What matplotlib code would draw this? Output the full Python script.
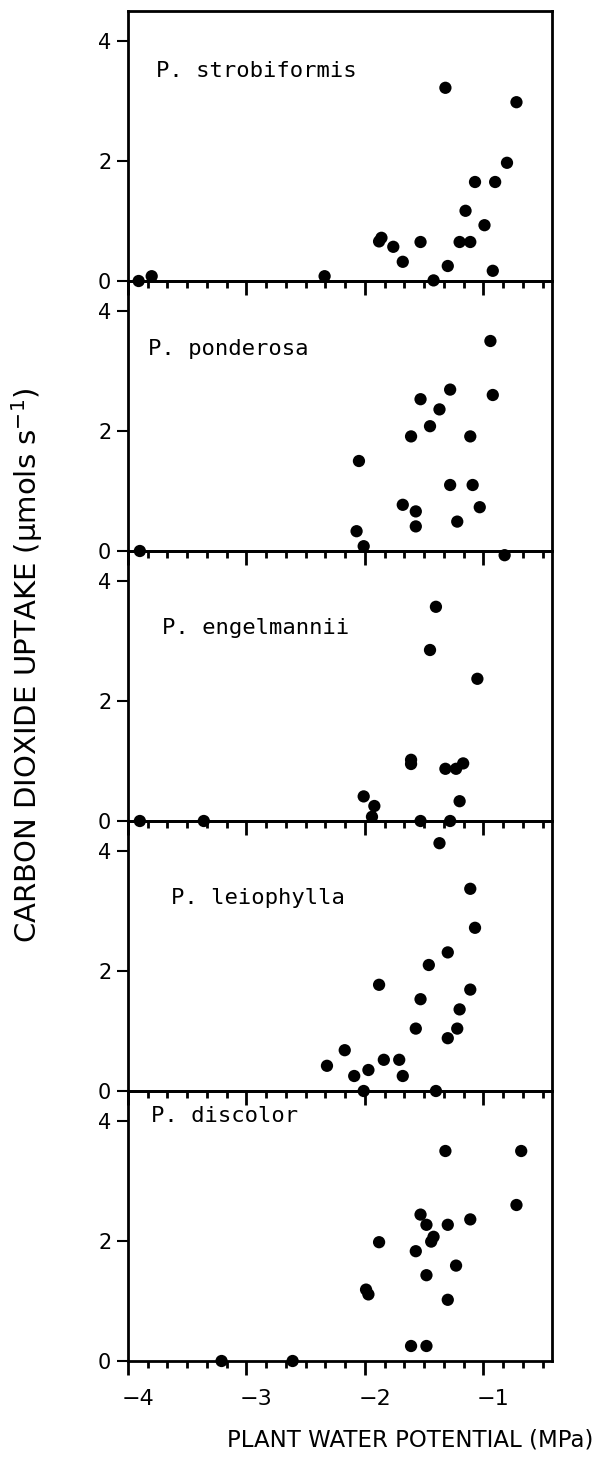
import numpy as np
import matplotlib
matplotlib.use("Agg")
import matplotlib.pyplot as plt
from matplotlib.ticker import MultipleLocator, FixedLocator
from matplotlib.transforms import ScaledTranslation

# species, panel order top to bottom
species = ["P. strobiformis", "P. ponderosa", "P. engelmannii", "P. leiophylla", "P. discolor"]

strob_x = [-3.91, -3.80, -2.34, -1.88, -1.86, -1.76, -1.68, -1.53, -1.42, -1.32, -1.30,
           -1.20, -1.11, -1.15, -1.07, -0.99, -0.92, -0.90, -0.80, -0.72]
strob_y = [0.0, 0.08, 0.08, 0.66, 0.72, 0.57, 0.32, 0.65, 0.01, 3.22, 0.25,
           0.65, 0.65, 1.17, 1.65, 0.93, 0.17, 1.65, 1.97, 2.98]

pond_x = [-3.90, -2.05, -2.07, -2.01, -1.68, -1.57, -1.57, -1.61, -1.53, -1.45, -1.37,
          -1.28, -1.28, -1.22, -1.11, -1.09, -1.03, -0.94, -0.92]
pond_y = [0.0, 1.50, 0.33, 0.08, 0.77, 0.66, 0.41, 1.91, 2.53, 2.08, 2.36,
          2.69, 1.10, 0.49, 1.91, 1.10, 0.73, 3.50, 2.60]

engel_x = [-3.90, -3.36, -2.01, -1.92, -1.94, -1.61, -1.61, -1.53, -1.45, -1.40, -1.32,
           -1.28, -1.23, -1.17, -1.20, -1.05, -0.82]
engel_y = [0.0, 0.0, 0.41, 0.25, 0.07, 1.02, 0.95, 0.0, 2.85, 3.57, 0.87,
           0.0, 0.87, 0.96, 0.33, 2.37, 4.43]

leio_x = [-2.01, -2.32, -2.17, -2.09, -1.97, -1.88, -1.84, -1.71, -1.68, -1.57, -1.53,
          -1.46, -1.40, -1.37, -1.30, -1.30, -1.22, -1.20, -1.11, -1.11, -1.07]
leio_y = [0.0, 0.42, 0.68, 0.25, 0.35, 1.77, 0.52, 0.52, 0.25, 1.04, 1.53,
          2.10, 0.0, 4.13, 2.31, 0.88, 1.04, 1.36, 1.69, 3.37, 2.72]

disc_x = [-3.21, -2.61, -1.99, -1.97, -1.88, -1.61, -1.48, -1.57, -1.53, -1.48, -1.48,
          -1.44, -1.42, -1.32, -1.30, -1.30, -1.23, -1.11, -0.72, -0.68]
disc_y = [0.0, 0.0, 1.19, 1.11, 1.98, 0.25, 0.25, 1.83, 2.44, 2.27, 1.43,
          1.99, 2.07, 3.50, 2.27, 1.02, 1.59, 2.36, 2.60, 3.50]

series = [(strob_x, strob_y), (pond_x, pond_y), (engel_x, engel_y),
          (leio_x, leio_y), (disc_x, disc_y)]
label_pos = [(-3.76, 3.50), (-3.83, 3.37), (-3.71, 3.22), (-3.64, 3.22), (-3.81, 4.08)]

xticks = [-4, -3, -2, -1]
xticklabels = ["\u22124", "\u22123", "\u22122", "\u22121"]
yticks = [0, 2, 4]

plt.rcParams['font.family'] = ['DejaVu Sans']

fig = plt.figure(figsize=(5.97, 14.63), dpi=100)
W, H = 597.0, 1463.0
left, right = 128 / W, 552 / W
panel_h = 270 / H
bottom0 = (H - 1361) / H

axes = []
for i, (name, (xs, ys)) in enumerate(zip(species, series)):
    b = bottom0 + (4 - i) * panel_h
    ax = fig.add_axes([left, b, right - left, panel_h])
    ax.patch.set_visible(False)
    ax.set_zorder(10 - i)
    ax.scatter(xs, ys, s=78, color="black", edgecolors="none", clip_on=False, zorder=5)
    ax.set_xlim(-4.0, -0.42)
    ax.set_ylim(0, 4.5)
    ax.xaxis.set_major_locator(FixedLocator(xticks))
    ax.xaxis.set_minor_locator(MultipleLocator(1 / 6))
    ax.yaxis.set_major_locator(FixedLocator(yticks))
    ax.tick_params(axis="x", which="major", direction="out", length=10, width=2)
    ax.tick_params(axis="x", which="minor", direction="out", length=5, width=2)
    ax.tick_params(axis="y", which="major", direction="out", length=8, width=1.5,
                   labelsize=15, pad=4)
    for sp in ax.spines.values():
        sp.set_linewidth(2)
    tx, ty = label_pos[i]
    ax.text(tx, ty, name, fontsize=16, ha="left", va="center",
            family="DejaVu Sans Mono")
    if i < 4:
        ax.set_xticklabels([])
    else:
        ax.set_xticklabels(xticklabels, fontsize=16)
        ax.tick_params(axis="x", which="major", pad=10)
        off = ScaledTranslation(10 / 100, 0, fig.dpi_scale_trans)
        for lab in ax.get_xticklabels():
            lab.set_transform(lab.get_transform() + off)
    axes.append(ax)

fig.text(27 / W, 1 - 665 / H, "CARBON DIOXIDE UPTAKE (\u00b5mols s$^{-1}$)",
         rotation=90, ha="center", va="center", fontsize=21)
fig.text(410 / W, 1 - 1440 / H, "PLANT WATER POTENTIAL (MPa)",
         ha="center", va="center", fontsize=16.5)

fig.savefig("out.png", dpi=100)
